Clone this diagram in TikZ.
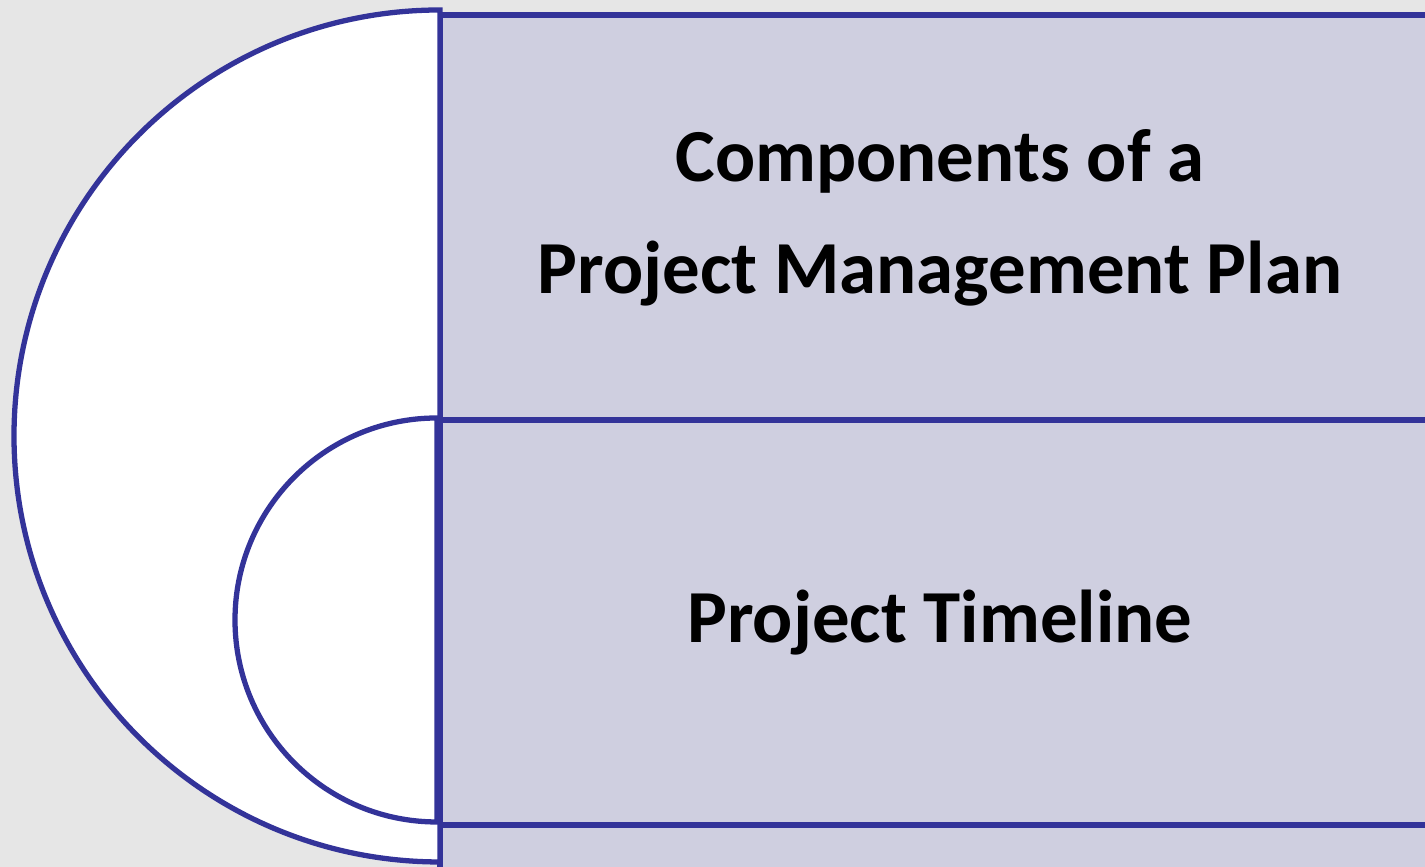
\documentclass[tikz,border=0pt]{standalone}
\usepackage{fontspec}
\setmainfont{Carlito}
\usepackage[HTML]{xcolor}
\usepackage{tikz}
\usetikzlibrary{positioning}

\definecolor{edgeblue}{HTML}{333399}
\definecolor{panelfill}{HTML}{CFCFE0}
\definecolor{bggray}{HTML}{E6E6E6}

\tikzset{
  panel/.style={draw=edgeblue, line width=1.5pt, fill=panelfill,
    minimum width=10cm, minimum height=4.06cm, align=center,
    font=\fontsize{21.3}{32}\selectfont\bfseries, inner sep=0pt},
  halfdisc/.style={draw=edgeblue, line width=1.5pt, fill=white}
}

\begin{document}
\begin{tikzpicture}
\useasboundingbox (0,0) rectangle (14.25,8.67);
\clip (0,0) rectangle (14.25,8.67);
\fill[bggray] (0,0) rectangle (14.25,8.67);

% the stacked panels on the right
\node[panel] (title) at (9.40,6.49) {Components of a\\Project Management Plan};
\node[panel] (timeline) at (9.40,2.44) {Project Timeline};
\node[panel] (next) at (9.40,-1.61) {};

% outer half disc
\coordinate (bigc) at (4.40,4.31);
\draw[halfdisc] ([yshift=4.26cm]bigc) arc (90:270:4.26) -- cycle;

% inner half disc
\coordinate (smallc) at (4.37,2.47);
\draw[halfdisc] ([yshift=2.02cm]smallc) arc (90:270:2.02) -- cycle;
\end{tikzpicture}
\end{document}
